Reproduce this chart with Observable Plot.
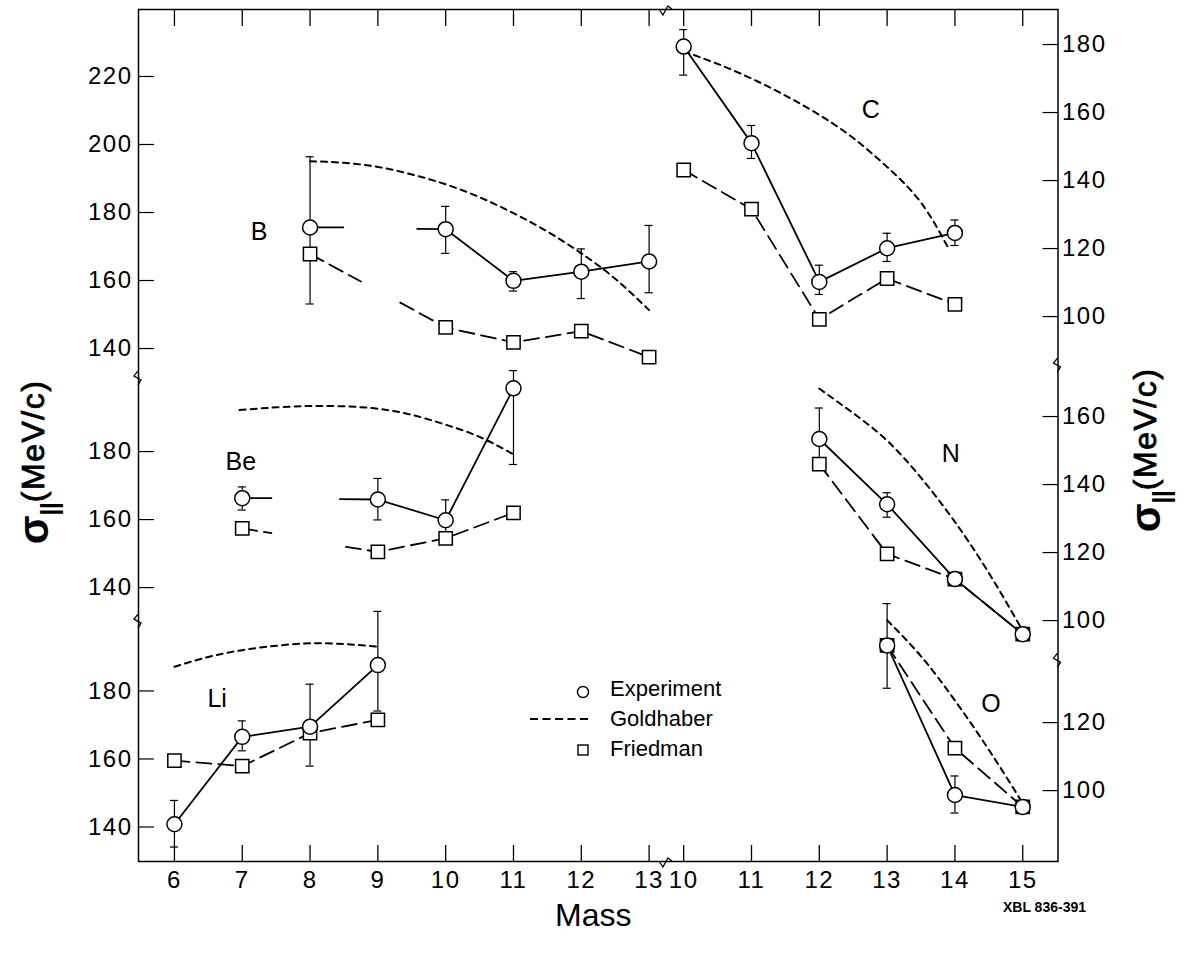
<!DOCTYPE html>
<html><head><meta charset="utf-8">
<script src="https://cdn.jsdelivr.net/npm/d3@7"></script>
<script src="https://cdn.jsdelivr.net/npm/@observablehq/plot@0.6"></script>
<style>
html,body{margin:0;padding:0;background:#fff;overflow:hidden}
g[aria-label="y-axis tick label"] text, g[aria-label="x-axis tick label"] text{letter-spacing:1.5px}
</style>
</head><body>
<script>
// ---------------- data ----------------
const massTicksLeft = [6, 7, 8, 9, 10, 11, 12, 13];
const massTicksRight = [10, 11, 12, 13, 14, 15];
const yTicksB = [140, 160, 180, 200, 220];
const yTicksBe = [140, 160, 180];
const yTicksLi = [140, 160, 180];
const yTicksC = [100, 120, 140, 160, 180];
const yTicksN = [100, 120, 140, 160];
const yTicksO = [100, 120];

// Li
const liMass = [6, 7, 8, 9];
const liExp = [140.8, 166.5, 169.5, 187.6];
const liExpLo = [134.1, 162.4, 157.9, 174.1];
const liExpHi = [147.8, 171.2, 182.0, 203.4];
const liFried = [159.5, 157.9, 167.6, 171.5];
const liGoldMass = [6, 6.5, 7, 7.5, 8, 8.5, 9];
const liGold = [187.1, 190.0, 192.0, 193.3, 194.0, 193.8, 193.0];

// Be (strokes interrupted at mass 8)
const beMass = [7, 9, 10, 11];
const beExp = [166.3, 165.9, 159.8, 198.6];
const beExpLo = [162.8, 159.9, 156.2, 176.2];
const beExpHi = [169.6, 172.1, 165.8, 203.8];
const beFried = [157.4, 150.5, 154.5, 162.0];
const beExpPathMass = [7, 7.43, NaN, 8.44, 9, 10, 11];
const beExpPath = [166.3, 166.3, NaN, 166.0, 165.9, 159.8, 198.6];
const beFriedPathMass = [7, 7.43, NaN, 8.53, 9, 10, 11];
const beFriedPath = [157.4, 156.0, NaN, 152.0, 150.5, 154.5, 162.0];
const beGoldMass = [6.96, 7.5, 8, 8.5, 9, 9.5, 10, 10.5, 11];
const beGold = [192.2, 193.0, 193.4, 193.3, 192.6, 190.8, 187.9, 184.3, 179.2];

// B (strokes interrupted at mass 9)
const bMass = [8, 10, 11, 12, 13];
const bExp = [175.6, 175.1, 159.9, 162.6, 165.6];
const bExpLo = [153.1, 168.0, 156.9, 154.7, 156.4];
const bExpHi = [196.4, 181.8, 162.6, 169.3, 176.2];
const bFried = [167.8, 146.2, 141.8, 145.1, 137.5];
const bExpPathMass = [8, 8.49, NaN, 9.58, 10, 11, 12, 13];
const bExpPath = [175.6, 175.6, NaN, 175.2, 175.1, 159.9, 162.6, 165.6];
const bFriedPathMass = [8, 8.75, NaN, 9.33, 10, 11, 12, 13];
const bFriedPath = [167.8, 159.7, NaN, 153.5, 146.2, 141.8, 145.1, 137.5];
const bGoldMass = [8, 8.5, 9, 9.5, 10, 10.5, 11, 11.5, 12, 12.5, 13];
const bGold = [195.1, 194.6, 193.4, 191.2, 188.3, 184.5, 179.8, 174.4, 168.0, 160.5, 151.3];

// C
const cMass = [10, 11, 12, 13, 14];
const cExp = [179.4, 151.0, 110.2, 120.1, 124.6];
const cExpLo = [171.0, 146.5, 106.5, 116.2, 120.9];
const cExpHi = [184.4, 156.2, 115.1, 124.5, 128.4];
const cFried = [143.1, 131.6, 99.2, 111.2, 103.6];
const cGoldMass = [10, 10.5, 11, 11.5, 12, 12.5, 13, 13.5, 13.92];
const cGold = [178.0, 174.3, 170.0, 165.0, 159.3, 152.5, 144.0, 133.5, 119.5];

// N
const nMass = [12, 13, 14, 15];
const nExp = [153.4, 134.2, 112.2, 96.0];
const nErrMass = [12, 13];
const nExpLo = [147.0, 130.4];
const nExpHi = [162.5, 137.6];
const nFried = [146.0, 119.6, 112.2, 96.0];
const nGoldMass = [12, 12.5, 13, 13.5, 14, 14.5, 15];
const nGold = [168.2, 161.0, 152.9, 142.0, 129.0, 114.0, 97.0];

// O
const oMass = [13, 14, 15];
const oExp = [142.7, 98.7, 95.2];
const oErrMass = [13, 14];
const oExpLo = [130.1, 93.4];
const oExpHi = [155.0, 104.3];
const oFried = [142.7, 112.5, 95.2];
const oGoldMass = [13, 13.5, 14, 14.5, 15];
const oGold = [150.1, 139.5, 126.5, 112.0, 96.3];

const panelLabels = ["Li", "Be", "B", "C", "N", "O"];
const panelLabelMass = [6.63, 6.98, 7.25, 12.76, 13.94, 14.53];
const panelLabelValue = [177.5, 176.8, 174.4, 160.6, 148.9, 125.6];

const legendLabels = ["Experiment", "Goldhaber", "Friedman"];
const yTitleMain = "σ", yTitleSub = "||", yTitleUnit = "(MeV/c)";
const xTitle = "Mass";
const figCode = "XBL 836-391";

// axis breaks: [panel, value]
const leftBreaks = [["B", 131.2], ["Be", 130.0]];
const rightBreaks = [["C", 85.6], ["N", 88.2]];

// ---------------- layout of the broken axes ----------------
const FONT = "'Liberation Sans', Arial, sans-serif";
const panelOffset = {Li: 0, Be: 70.4, B: 140.7, O: 50.7, N: 100.7, C: 190.1};
const panelShift = {Li: 0, Be: 0, B: 0, O: 3.51, N: 3.51, C: 3.51};

const pt = (p, m, v, z) => ({x: m + panelShift[p], y: v + panelOffset[p], z});
const series = (p, ms, vs, z) => ms.map((m, i) => pt(p, m, vs[i], p + z));
const errs = (p, ms, lo, hi) => ms.map((m, i) => ({x: m + panelShift[p], y1: lo[i] + panelOffset[p], y2: hi[i] + panelOffset[p]}));

const gold = [
  ...series("Li", liGoldMass, liGold, "g"), ...series("Be", beGoldMass, beGold, "g"),
  ...series("B", bGoldMass, bGold, "g"), ...series("C", cGoldMass, cGold, "g"),
  ...series("N", nGoldMass, nGold, "g"), ...series("O", oGoldMass, oGold, "g")
];
const friedLines = [
  ...series("Li", liMass, liFried, "f"), ...series("Be", beFriedPathMass, beFriedPath, "f"),
  ...series("B", bFriedPathMass, bFriedPath, "f"), ...series("C", cMass, cFried, "f"),
  ...series("N", nMass, nFried, "f"), ...series("O", oMass, oFried, "f")
];
const expLines = [
  ...series("Li", liMass, liExp, "e"), ...series("Be", beExpPathMass, beExpPath, "e"),
  ...series("B", bExpPathMass, bExpPath, "e"), ...series("C", cMass, cExp, "e"),
  ...series("N", nMass, nExp, "e"), ...series("O", oMass, oExp, "e")
];
const friedPts = [
  ...series("Li", liMass, liFried, "f"), ...series("Be", beMass, beFried, "f"),
  ...series("B", bMass, bFried, "f"), ...series("C", cMass, cFried, "f"),
  ...series("N", nMass, nFried, "f"), ...series("O", oMass, oFried, "f")
];
const expPts = [
  ...series("Li", liMass, liExp, "e"), ...series("Be", beMass, beExp, "e"),
  ...series("B", bMass, bExp, "e"), ...series("C", cMass, cExp, "e"),
  ...series("N", nMass, nExp, "e"), ...series("O", oMass, oExp, "e")
];
const errBars = [
  ...errs("Li", liMass, liExpLo, liExpHi), ...errs("Be", beMass, beExpLo, beExpHi),
  ...errs("B", bMass, bExpLo, bExpHi), ...errs("C", cMass, cExpLo, cExpHi),
  ...errs("N", nErrMass, nExpLo, nExpHi), ...errs("O", oErrMass, oExpLo, oExpHi)
];
const errCaps = errBars.flatMap(d => [{x: d.x, y: d.y1}, {x: d.x, y: d.y2}]);
const labels = panelLabels.map((t, i) => ({...pt(t, panelLabelMass[i], panelLabelValue[i]), t}));

const xTicks = [
  ...massTicksLeft.map(m => [m + panelShift.Li, String(m)]),
  ...massTicksRight.map(m => [m + panelShift.C, String(m)])
];
const xLab = new Map(xTicks);
const yLeft = [
  ...yTicksLi.map(v => [v + panelOffset.Li, String(v)]),
  ...yTicksBe.map(v => [v + panelOffset.Be, String(v)]),
  ...yTicksB.map(v => [v + panelOffset.B, String(v)])
];
const yRight = [
  ...yTicksO.map(v => [v + panelOffset.O, String(v)]),
  ...yTicksN.map(v => [v + panelOffset.N, String(v)]),
  ...yTicksC.map(v => [v + panelOffset.C, String(v)])
];
const yLabL = new Map(yLeft), yLabR = new Map(yRight);

// ---------------- decorations drawn with the scales ----------------
function breaksMark(index, scales, values, dims) {
  const g = d3.create("svg:g").attr("fill", "none").attr("stroke", "black").attr("stroke-width", 1.3);
  const xl = dims.marginLeft, xr = dims.width - dims.marginRight;
  const yt = dims.marginTop, yb = dims.height - dims.marginBottom;
  const zz = (x0, py, s) => `M${x0},${py - 7}L${x0 - 4 * s},${py - 2}L${x0 + 3 * s},${py + 2}L${x0},${py + 7}`;
  for (const [p, v] of leftBreaks) g.append("path").attr("d", zz(xl, scales.y(v + panelOffset[p]), 1));
  for (const [p, v] of rightBreaks) g.append("path").attr("d", zz(xr, scales.y(v + panelOffset[p]), 1));
  const bx = scales.x((massTicksLeft[massTicksLeft.length - 1] + massTicksRight[0] + panelShift.C) / 2);
  g.append("path").attr("d", `M${bx - 7},${yt}L${bx - 3},${yt + 6}L${bx + 2},${yt - 3}L${bx + 6},${yt}`);
  g.append("path").attr("d", `M${bx - 7},${yb}L${bx - 3},${yb + 6}L${bx + 2},${yb - 3}L${bx + 6},${yb}`);
  return g.node();
}

function legendMark(index, scales, values, dims) {
  const g = d3.create("svg:g").attr("font-family", FONT).attr("font-size", 22)
    .attr("fill", "black").attr("text-anchor", "start");
  g.append("circle").attr("cx", 583).attr("cy", 692).attr("r", 5.5)
    .attr("fill", "white").attr("stroke", "black").attr("stroke-width", 1.4);
  g.append("line").attr("x1", 530).attr("x2", 589).attr("y1", 719).attr("y2", 719)
    .attr("stroke", "black").attr("stroke-width", 1.8).attr("stroke-dasharray", "8,4.5");
  g.append("rect").attr("x", 578).attr("y", 745).attr("width", 10).attr("height", 10)
    .attr("fill", "white").attr("stroke", "black").attr("stroke-width", 1.4);
  const ty = [688, 718, 748];
  legendLabels.forEach((t, i) => g.append("text").attr("x", 610).attr("y", ty[i]).attr("dy", "0.35em").text(t));
  return g.node();
}

function yTitles(index, scales, values, dims) {
  const g = d3.create("svg:g").attr("font-family", FONT).attr("fill", "black").attr("font-weight", "bold");
  for (const [x, y] of [[48, 462], [1160, 450]]) {
    const t = g.append("text").attr("transform", `translate(${x},${y}) rotate(-90)`).attr("text-anchor", "middle");
    t.append("tspan").attr("font-size", 42).text(yTitleMain);
    t.append("tspan").attr("font-size", 24).attr("dy", 10).text(yTitleSub);
    t.append("tspan").attr("font-size", 32).attr("dy", -14).attr("font-weight", "normal")
      .attr("letter-spacing", 1.5).attr("stroke", "black").attr("stroke-width", 0.8).text(yTitleUnit);
  }
  return g.node();
}

const chart = Plot.plot({
  width: 1187, height: 964,
  marginLeft: 138, marginRight: 129.5, marginTop: 9, marginBottom: 103,
  x: {domain: [5.47, 19.03]},
  y: {domain: [129.85, 380.4]},
  style: {fontFamily: FONT, background: "white", color: "black"},
  marks: [
    Plot.frame({stroke: "black", strokeWidth: 1.5}),
    Plot.axisX({anchor: "bottom", ticks: xTicks.map(d => d[0]), tickFormat: d => xLab.get(d), tickSize: -16, tickPadding: 25, fontSize: 24, label: null, strokeWidth: 1.3}),
    Plot.axisX({anchor: "top", ticks: xTicks.map(d => d[0]), tickFormat: () => "", tickSize: -16, label: null, strokeWidth: 1.3}),
    Plot.axisY({anchor: "left", ticks: yLeft.map(d => d[0]), tickFormat: d => yLabL.get(d), tickSize: -16, tickPadding: 22, fontSize: 24, label: null, strokeWidth: 1.2}),
    Plot.axisY({anchor: "right", ticks: yRight.map(d => d[0]), tickFormat: d => yLabR.get(d), tickSize: -16, tickPadding: 20, fontSize: 24, label: null, strokeWidth: 1.2}),
    breaksMark,
    Plot.line(gold, {x: "x", y: "y", z: "z", curve: "natural", stroke: "black", strokeWidth: 2, strokeDasharray: "6,5"}),
    Plot.line(friedLines, {x: "x", y: "y", z: "z", stroke: "black", strokeWidth: 1.8, strokeDasharray: "15,7"}),
    Plot.line(expLines, {x: "x", y: "y", z: "z", stroke: "black", strokeWidth: 1.8}),
    Plot.ruleX(errBars, {x: "x", y1: "y1", y2: "y2", stroke: "black", strokeWidth: 1.2}),
    Plot.ruleY(errCaps, {y: "y", x1: d => d.x - 0.06, x2: d => d.x + 0.06, stroke: "black", strokeWidth: 1.2}),
    Plot.dot(friedPts, {x: "x", y: "y", symbol: "square", r: 7.5, fill: "white", stroke: "black", strokeWidth: 1.5}),
    Plot.dot(expPts, {x: "x", y: "y", r: 7.5, fill: "white", stroke: "black", strokeWidth: 1.5}),
    Plot.text(labels, {x: "x", y: "y", text: "t", fontSize: 25}),
    legendMark,
    yTitles,
    Plot.text([xTitle], {text: d => d, frameAnchor: "bottom", dx: -5, dy: 64, fontSize: 32}),
    Plot.text([figCode], {text: d => d, frameAnchor: "bottom-right", dx: 28, dy: 50, fontSize: 14, fontWeight: "bold"})
  ]
});
document.body.appendChild(chart);
</script>
</body></html>
